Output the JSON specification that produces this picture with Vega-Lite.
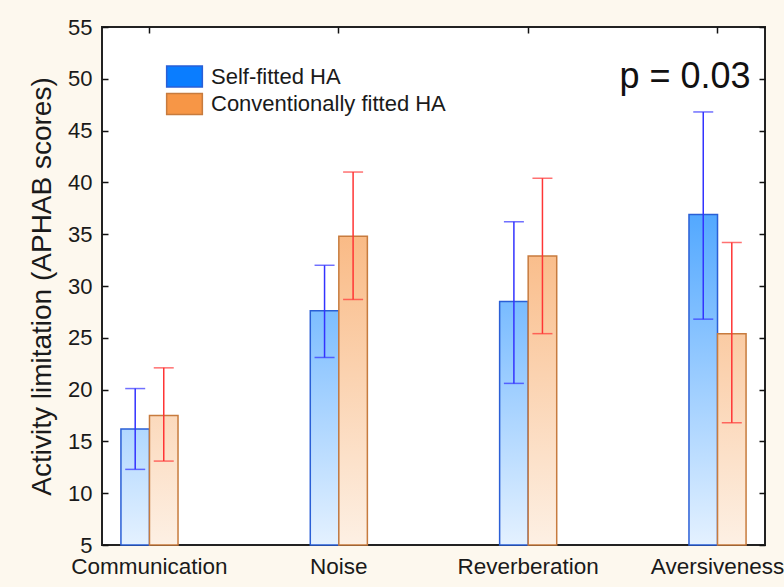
{
  "$schema": "https://vega.github.io/schema/vega-lite/v6.json",
  "width": 663,
  "height": 518,
  "autosize": {"type": "none"},
  "padding": {"left": 102, "top": 27, "right": 19, "bottom": 42},
  "background": "#fdf8ee",
  "config": {
    "view": {"fill": "white", "stroke": "#222222", "strokeWidth": 2},
    "font": "Liberation Sans",
    "axis": {
      "domain": false,
      "grid": false,
      "tickColor": "#111111",
      "tickWidth": 1.5,
      "tickSize": -6,
      "labelFont": "Liberation Sans",
      "labelFontSize": 22,
      "labelColor": "#1a1a1a",
      "titleFont": "Liberation Sans",
      "titleFontWeight": "normal",
      "titleColor": "#1a1a1a"
    }
  },
  "data": {
    "values": [
      {"cat": "Communication", "group": "Self-fitted HA", "mean": 16.2, "lo": 12.3, "hi": 20.1},
      {"cat": "Noise", "group": "Self-fitted HA", "mean": 27.6, "lo": 23.1, "hi": 32.0},
      {"cat": "Reverberation", "group": "Self-fitted HA", "mean": 28.5, "lo": 20.6, "hi": 36.2},
      {"cat": "Aversiveness", "group": "Self-fitted HA", "mean": 36.9, "lo": 26.8, "hi": 46.8},
      {"cat": "Communication", "group": "Conventionally fitted HA", "mean": 17.5, "lo": 13.1, "hi": 22.1},
      {"cat": "Noise", "group": "Conventionally fitted HA", "mean": 34.8, "lo": 28.7, "hi": 41.0},
      {"cat": "Reverberation", "group": "Conventionally fitted HA", "mean": 32.9, "lo": 25.4, "hi": 40.4},
      {"cat": "Aversiveness", "group": "Conventionally fitted HA", "mean": 25.4, "lo": 16.8, "hi": 34.2}
    ]
  },
  "resolve": {"axis": {"x": "independent", "y": "independent"}},
  "layer": [
    {
      "mark": {
        "type": "bar",
        "strokeWidth": 1.5,
        "fill": {"expr": "datum.group == 'Self-fitted HA' ? {'gradient': 'linear', 'x1': 0, 'y1': (datum.mean - 55) / (datum.mean - 5), 'x2': 0, 'y2': 1, 'stops': [{'offset': 0, 'color': '#007fff'}, {'offset': 1, 'color': '#e4f1ff'}]} : {'gradient': 'linear', 'x1': 0, 'y1': (datum.mean - 55) / (datum.mean - 5), 'x2': 0, 'y2': 1, 'stops': [{'offset': 0, 'color': '#f79646'}, {'offset': 1, 'color': '#fdf0e4'}]}"}
      },
      "encoding": {
        "x": {
          "field": "cat",
          "type": "nominal",
          "sort": ["Communication", "Noise", "Reverberation", "Aversiveness"],
          "scale": {"paddingInner": 0.6985, "paddingOuter": 0.1},
          "axis": {"orient": "bottom", "title": null, "labelAngle": 0, "labelPadding": 16, "labelFontSize": 22.5}
        },
        "xOffset": {
          "field": "group",
          "type": "nominal",
          "scale": {"domain": ["Self-fitted HA", "Conventionally fitted HA"], "paddingInner": 0, "paddingOuter": 0}
        },
        "y": {
          "field": "mean",
          "type": "quantitative",
          "scale": {"domain": [5, 55], "nice": false, "zero": false},
          "axis": {
            "orient": "left",
            "values": [5, 10, 15, 20, 25, 30, 35, 40, 45, 50, 55],
            "title": "Activity limitation (APHAB scores)",
            "titleFontSize": 28,
            "titlePadding": 11,
            "labelPadding": 16
          }
        },
        "y2": {"datum": 5},
        "stroke": {"condition": {"test": "datum.group == 'Self-fitted HA'", "value": "#2a5fd6"}, "value": "#c77b3e"}
      }
    },
    {
      "mark": {"type": "point", "opacity": 0, "filled": true},
      "encoding": {
        "x": {"field": "cat", "type": "nominal", "sort": ["Communication", "Noise", "Reverberation", "Aversiveness"], "axis": null},
        "xOffset": {"field": "group", "type": "nominal"},
        "y": {"field": "mean", "type": "quantitative", "axis": null},
        "fill": {
          "field": "group",
          "type": "nominal",
          "scale": {"domain": ["Self-fitted HA", "Conventionally fitted HA"], "range": ["#0a7dff", "#f79646"]},
          "legend": {
            "title": null,
            "orient": "none",
            "legendX": 71,
            "legendY": 38,
            "padding": 0,
            "symbolType": "M-1.7,-1H1.7V1H-1.7Z",
            "symbolSize": 441,
            "symbolStrokeWidth": 1.5,
            "symbolOpacity": 1,
            "labelFont": "Liberation Sans",
            "labelFontSize": 22,
            "labelColor": "#1a1a1a",
            "labelOffset": 15,
            "labelLimit": 500,
            "rowPadding": 0.5
          }
        },
        "stroke": {
          "field": "group",
          "type": "nominal",
          "scale": {"domain": ["Self-fitted HA", "Conventionally fitted HA"], "range": ["#2a5fd6", "#c77b3e"]},
          "legend": {
            "title": null,
            "orient": "none",
            "legendX": 71,
            "legendY": 38,
            "padding": 0,
            "symbolType": "M-1.7,-1H1.7V1H-1.7Z",
            "symbolSize": 441,
            "symbolStrokeWidth": 1.5,
            "symbolOpacity": 1,
            "labelFont": "Liberation Sans",
            "labelFontSize": 22,
            "labelColor": "#1a1a1a",
            "labelOffset": 15,
            "labelLimit": 500,
            "rowPadding": 0.5
          }
        }
      }
    },
    {
      "mark": {"type": "rule", "strokeWidth": 1.5},
      "encoding": {
        "x": {
          "field": "cat",
          "type": "nominal",
          "sort": ["Communication", "Noise", "Reverberation", "Aversiveness"],
          "axis": {"orient": "top", "title": null, "labels": false}
        },
        "xOffset": {"field": "group", "type": "nominal"},
        "y": {
          "field": "lo",
          "type": "quantitative",
          "axis": {"orient": "right", "title": null, "labels": false, "values": [5, 10, 15, 20, 25, 30, 35, 40, 45, 50, 55]}
        },
        "y2": {"field": "hi"},
        "color": {"condition": {"test": "datum.group == 'Self-fitted HA'", "value": "#3333ff"}, "value": "#ff3535"}
      }
    },
    {
      "mark": {"type": "tick", "thickness": 1.5, "size": 20},
      "encoding": {
        "x": {"field": "cat", "type": "nominal", "sort": ["Communication", "Noise", "Reverberation", "Aversiveness"], "axis": null},
        "xOffset": {"field": "group", "type": "nominal"},
        "y": {"field": "lo", "type": "quantitative", "axis": null},
        "color": {"condition": {"test": "datum.group == 'Self-fitted HA'", "value": "#3333ff"}, "value": "#ff3535"}
      }
    },
    {
      "mark": {"type": "tick", "thickness": 1.5, "size": 20},
      "encoding": {
        "x": {"field": "cat", "type": "nominal", "sort": ["Communication", "Noise", "Reverberation", "Aversiveness"], "axis": null},
        "xOffset": {"field": "group", "type": "nominal"},
        "y": {"field": "hi", "type": "quantitative", "axis": null},
        "color": {"condition": {"test": "datum.group == 'Self-fitted HA'", "value": "#3333ff"}, "value": "#ff3535"}
      }
    },
    {
      "data": {"values": [{"label": "p = 0.03"}]},
      "mark": {"type": "text", "align": "right", "baseline": "alphabetic", "fontSize": 36, "font": "Liberation Sans", "color": "#111111", "dx": 33},
      "encoding": {
        "x": {"datum": "Aversiveness", "type": "nominal", "axis": null},
        "y": {"datum": 49.1, "type": "quantitative", "axis": null},
        "text": {"field": "label"}
      }
    }
  ]
}
